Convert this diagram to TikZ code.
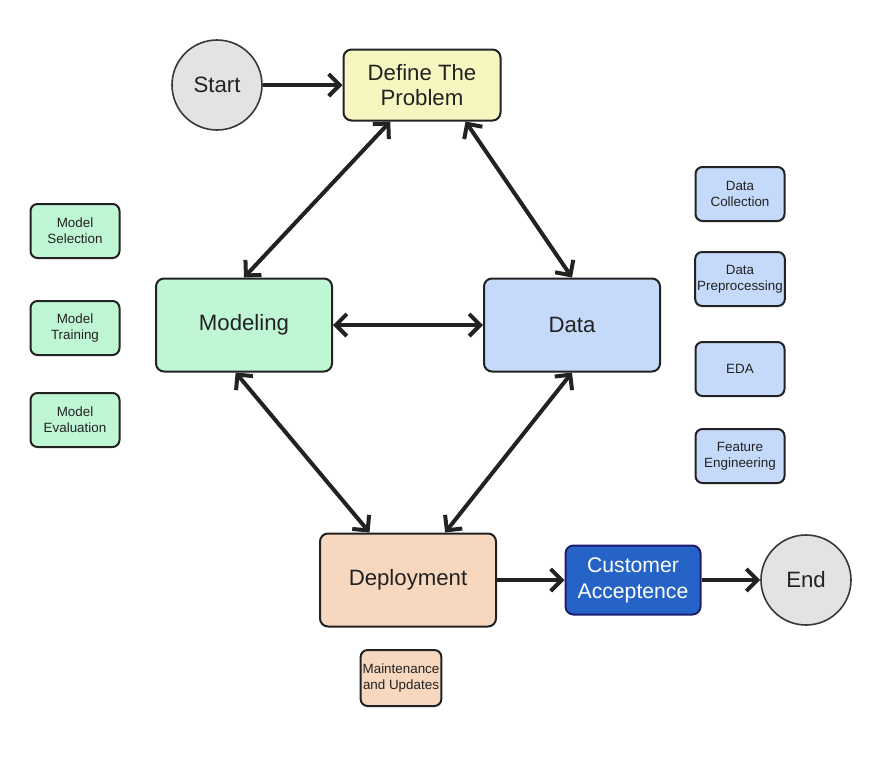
\documentclass[tikz,border=0pt]{standalone}
\usepackage{fontspec}
\setmainfont{Liberation Sans}
\usetikzlibrary{arrows.meta}

\definecolor{linec}{RGB}{34,34,34}
\definecolor{termgray}{RGB}{227,227,227}
\definecolor{probyellow}{RGB}{246,246,192}
\definecolor{modgreen}{RGB}{191,246,211}
\definecolor{datablue}{RGB}{197,218,250}
\definecolor{deppeach}{RGB}{248,215,191}
\definecolor{custblue}{RGB}{38,99,199}
\definecolor{custnavy}{RGB}{30,30,110}

\tikzset{
  bigbox/.style={draw=linec, line width=1pt, rounded corners=4pt, minimum width=88pt, minimum height=46.5pt, align=center, text=linec, font=\fontsize{11.1}{12.5}\selectfont},
  smallbox/.style={draw=linec, line width=1pt, rounded corners=3.5pt, minimum width=44.5pt, minimum height=27pt, align=center, inner sep=1pt, text=linec, font=\fontsize{6.7}{8}\selectfont},
  termnode/.style={circle, draw=linec!90, line width=0.8pt, fill=termgray, minimum size=45pt, inner sep=0pt, text=linec, font=\fontsize{11.1}{13}\selectfont},
  flow/.style={draw=linec, line width=2pt, -{Straight Barb[length=5.5pt,width=11pt,line width=2pt]}},
  link/.style={draw=linec, line width=2pt, {Straight Barb[length=5.5pt,width=11pt,line width=2pt]}-{Straight Barb[length=5.5pt,width=11pt,line width=2pt]}}
}

\begin{document}
\begin{tikzpicture}[x=0.5pt,y=-0.5pt]
\useasboundingbox[fill=white] (0,0) rectangle (883,761);

% main steps
\node[termnode] (start) at (217,85) {Start};
\node[bigbox, fill=probyellow, minimum width=78.5pt, minimum height=35.5pt] (problem) at (422,85) {Define The\\Problem};
\node[bigbox, fill=modgreen] (modeling) at (244,325) {Modeling};
\node[bigbox, fill=datablue] (data) at (572,325) {Data};
\node[bigbox, fill=deppeach] (deploy) at (408,580) {Deployment};
\node[bigbox, fill=custblue, draw=custnavy, text=white, minimum width=67.5pt, minimum height=34.5pt, font=\fontsize{10.6}{13}\selectfont] (customer) at (633,580) {Customer\\Acceptence};
\node[termnode] (end) at (806,580) {End};

% modeling tasks
\node[smallbox, fill=modgreen] (selection) at (75,231) {Model\\Selection};
\node[smallbox, fill=modgreen] (training) at (75,328) {Model\\Training};
\node[smallbox, fill=modgreen] (evaluation) at (75,420) {Model\\Evaluation};

% data tasks
\node[smallbox, fill=datablue] (collection) at (740,194) {Data\\Collection};
\node[smallbox, fill=datablue] (preproc) at (740,279) {Data\\Preprocessing};
\node[smallbox, fill=datablue] (eda) at (740,369) {EDA};
\node[smallbox, fill=datablue] (feature) at (740,456) {Feature\\Engineering};

% deployment task
\node[smallbox, fill=deppeach, minimum width=38.5pt, minimum height=28pt] (maint) at (401,678) {Maintenance\\and Updates};

% connectors
\draw[flow] (start) -- (problem);
\draw[link] (problem.229) -- (modeling.north);
\draw[link] (problem.320) -- (data.north);
\draw[link] (modeling.east) -- (data.west);
\draw[link] (modeling.260) -- (deploy.129);
\draw[link] (data.south) -- (deploy.52);
\draw[flow] (deploy) -- (customer);
\draw[flow] (customer) -- (end);

\end{tikzpicture}
\end{document}
